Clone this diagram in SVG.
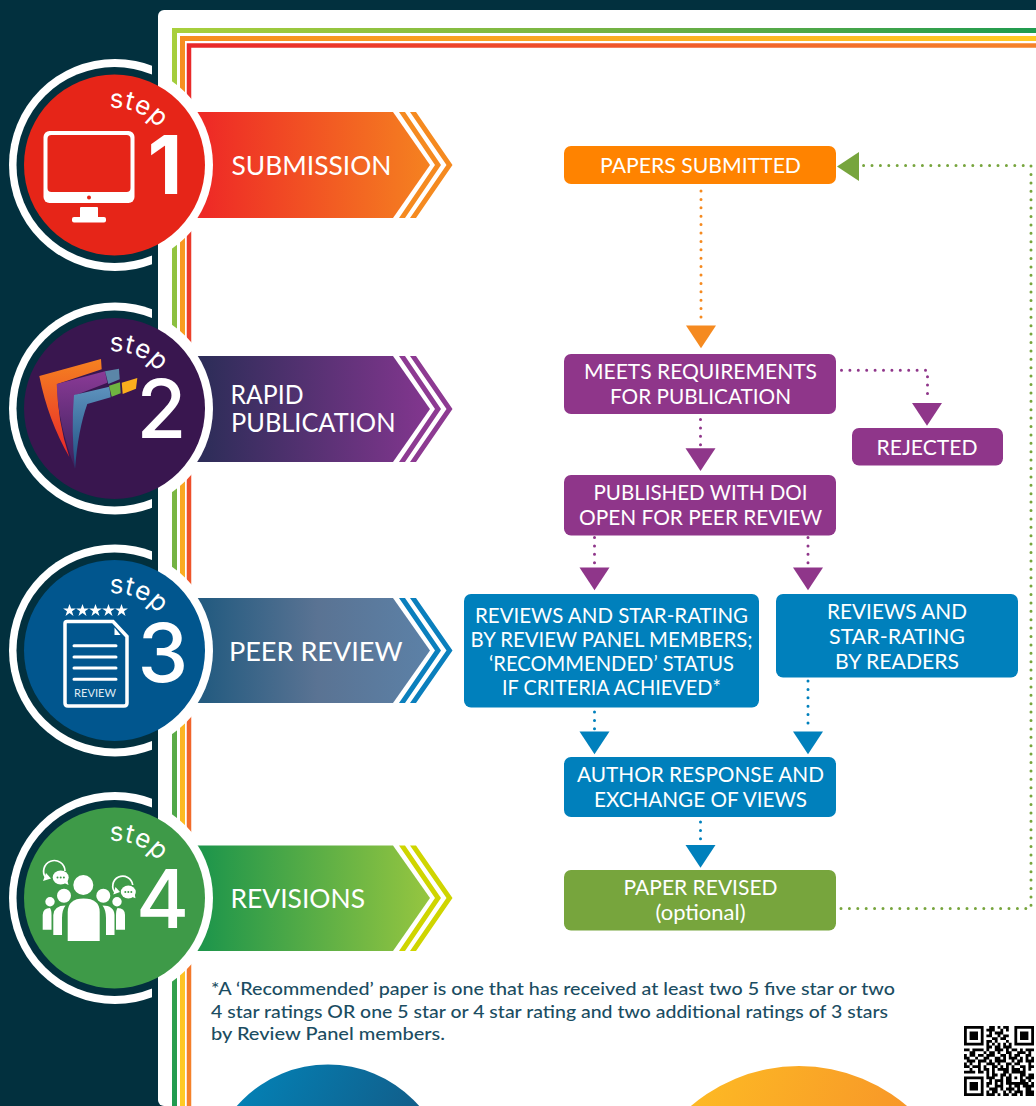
<svg xmlns="http://www.w3.org/2000/svg" width="1036" height="1106" viewBox="0 0 1036 1106">
<style>
text{font-family:"Lato","Noto Sans","Liberation Sans",sans-serif}
.nt{font-size:20.5px;fill:#fff;text-anchor:middle;font-weight:400}
.bt{font-size:26.5px;fill:#fff;font-weight:400}
.num{font-family:"Inter","Liberation Sans",sans-serif;fill:#fff;text-anchor:middle}
.st{font-family:"Inter","Liberation Sans",sans-serif;font-size:26px;fill:#fff;letter-spacing:.6px;font-weight:400}
.fn{font-size:18px;fill:#1b4d62;font-weight:500}
.d{fill:none;stroke-width:3;stroke-linecap:round;stroke-dasharray:0 8.4}
.w{fill:#fff}
.dk{fill:#02303e}
</style>
<defs>
<linearGradient id="gs1" gradientUnits="userSpaceOnUse" x1="172" y1="28" x2="698" y2="449"><stop offset="0" stop-color="#a9d03c"/><stop offset=".55" stop-color="#6fb044"/><stop offset="1" stop-color="#1f9b4f"/></linearGradient>
<linearGradient id="gs2" gradientUnits="userSpaceOnUse" x1="172" y1="28" x2="698" y2="449"><stop offset="0" stop-color="#f68b1f"/><stop offset="1" stop-color="#ffca24"/></linearGradient>
<linearGradient id="gs3" gradientUnits="userSpaceOnUse" x1="172" y1="28" x2="698" y2="449"><stop offset="0" stop-color="#e8242a"/><stop offset="1" stop-color="#f5822a"/></linearGradient>
<linearGradient id="a1" gradientUnits="userSpaceOnUse" x1="205" y1="0" x2="430" y2="0"><stop offset="0" stop-color="#ee2a26"/><stop offset="1" stop-color="#f58220"/></linearGradient>
<linearGradient id="a2" gradientUnits="userSpaceOnUse" x1="205" y1="0" x2="430" y2="0"><stop offset="0" stop-color="#2e2d59"/><stop offset="1" stop-color="#83368f"/></linearGradient>
<linearGradient id="a3" gradientUnits="userSpaceOnUse" x1="205" y1="0" x2="430" y2="0"><stop offset="0" stop-color="#245b80"/><stop offset=".5" stop-color="#5a7393"/><stop offset="1" stop-color="#5c81a7"/></linearGradient>
<linearGradient id="a4" gradientUnits="userSpaceOnUse" x1="205" y1="0" x2="430" y2="0"><stop offset="0" stop-color="#1f964b"/><stop offset="1" stop-color="#96c640"/></linearGradient>
<linearGradient id="lo" x1="0" y1="0" x2="0" y2="1"><stop offset="0" stop-color="#f58220"/><stop offset="1" stop-color="#e8262a"/></linearGradient>
<linearGradient id="lp" x1="0" y1="0" x2="0" y2="1"><stop offset="0" stop-color="#8a3a96"/><stop offset="1" stop-color="#39205a"/></linearGradient>
<linearGradient id="lb" x1="0" y1="0" x2="0" y2="1"><stop offset="0" stop-color="#5d92bd"/><stop offset="1" stop-color="#1d4d80"/></linearGradient>
<linearGradient id="cb" x1="0" y1="0" x2="1" y2=".5"><stop offset="0" stop-color="#0089bf"/><stop offset="1" stop-color="#17517a"/></linearGradient>
<linearGradient id="co" x1="0" y1="0" x2="1" y2=".35"><stop offset="0" stop-color="#ffc423"/><stop offset="1" stop-color="#f58a2a"/></linearGradient>
<clipPath id="cL1"><rect x="0" y="0" width="152" height="1106"/></clipPath>
<clipPath id="cL2"><rect x="0" y="0" width="158" height="1106"/></clipPath>
<clipPath id="cR"><rect x="158" y="0" width="878" height="1106"/></clipPath>
<polygon id="tri" points="-15,0 15,0 0,22.7"/>
<polygon id="star" points="0,-6.5 1.6,-2 6.4,-2 2.5,.8 4,5.4 0,2.6 -4,5.4 -2.5,.8 -6.4,-2 -1.6,-2"/>
<path id="arc1" d="M109.500 108.300A57 57 0 0 1 171.500 158"/>
<path id="arc2" d="M109.500 351.800A57 57 0 0 1 171.500 401.500"/>
<path id="arc3" d="M109.500 593.800A57 57 0 0 1 171.500 643.500"/>
<path id="arc4" d="M109.500 841.300A57 57 0 0 1 171.500 891"/>
</defs>

<rect width="1036" height="1106" class="dk"/>
<rect x="158" y="10" width="900" height="1096" rx="6" class="w"/>
<g id="frame" fill="none" stroke-width="5">
<path d="M174.500 1106V30.500H1036" stroke="url(#gs1)"/>
<path d="M182.500 1106V38.500H1036" stroke="url(#gs2)"/>
<path d="M189 1106V45.500H1036" stroke="url(#gs3)" style="stroke-width:4.5"/>
</g>

<g id="step1">
<circle cx="114.500" cy="165" r="101.500" class="w" clip-path="url(#cR)"/>
<polygon points="190,112 393,112 430,165 393,218 190,218" fill="url(#a1)"/>
<polygon points="399,112 405,112 441,165 405,218 399,218 435,165" fill="#f58a20"/>
<polygon points="410,112 416,112 452.500,165 416,218 410,218 446.500,165" fill="#f58a20"/>
<circle cx="114.500" cy="165" r="98.500" class="w" clip-path="url(#cR)"/>
<circle cx="115" cy="165" r="106" class="w" clip-path="url(#cL1)"/>
<circle cx="114.500" cy="165" r="98" class="dk" clip-path="url(#cL2)"/>
<circle cx="114.500" cy="165" r="90.500" fill="#e62518"/>
<text class="st"><textPath href="#arc1">step</textPath></text>
<text class="num" x="165" y="194" font-size="81" font-weight="700">1</text>
<rect x="43.500" y="131" width="91" height="72" rx="6" class="w"/>
<rect x="47.500" y="135" width="83" height="57" rx="4" fill="#e62518"/>
<circle cx="89" cy="197.500" r="2" fill="#e62518"/>
<rect x="80" y="207" width="18" height="11" rx="1" class="w"/>
<rect x="72" y="217" width="34" height="5.500" rx="2" class="w"/>
<text class="bt" x="231.500" y="174.500" textLength="160" lengthAdjust="spacingAndGlyphs">SUBMISSION</text>
</g>

<g id="step2">
<circle cx="114.500" cy="408.500" r="101.500" class="w" clip-path="url(#cR)"/>
<polygon points="190,356 393,356 430,409 393,462 190,462" fill="url(#a2)"/>
<polygon points="399,356 405,356 441,409 405,462 399,462 435,409" fill="#8d3a92"/>
<polygon points="410,356 416,356 452.500,409 416,462 410,462 446.500,409" fill="#8d3a92"/>
<circle cx="114.500" cy="408.500" r="98.500" class="w" clip-path="url(#cR)"/>
<circle cx="115" cy="408.500" r="106" class="w" clip-path="url(#cL1)"/>
<circle cx="114.500" cy="408.500" r="98" class="dk" clip-path="url(#cL2)"/>
<circle cx="114.500" cy="408.500" r="90.500" fill="#39164f"/>
<text class="st"><textPath href="#arc2">step</textPath></text>
<text class="num" x="161.500" y="438" font-size="81" font-weight="500">2</text>
<path d="M39.300 376 101 359 101.700 369.300 57.300 384Q57 420 69.300 457Q48 420 39.300 376Z" fill="url(#lo)"/>
<path d="M56.700 384 105 371.300 107.300 382.700 76 395Q72 430 75 468Q58 425 56.700 384Z" fill="url(#lp)"/>
<path d="M74 395 109.300 386.700 110.700 397.300 87.300 404Q78 430 75 469Q71 430 74 395Z" fill="url(#lb)"/>
<polygon points="105,371.300 119,368.700 119.700,379.300 108.300,384" fill="#5b86a8"/>
<polygon points="109,385.700 120,382.300 120.700,393.300 111.700,396.700" fill="#6fb540"/>
<polygon points="121.700,382.700 137.300,378 136,388.700 122.700,394" fill="#fbae1d"/>
<text class="bt" x="230.500" y="404" textLength="73" lengthAdjust="spacingAndGlyphs">RAPID</text>
<text class="bt" x="231" y="431.500" textLength="164.500" lengthAdjust="spacingAndGlyphs">PUBLICATION</text>
</g>

<g id="step3">
<circle cx="114.500" cy="650.500" r="101.500" class="w" clip-path="url(#cR)"/>
<polygon points="190,598 393,598 430,650.500 393,703 190,703" fill="url(#a3)"/>
<polygon points="399,598 405,598 441,650.500 405,703 399,703 435,650.500" fill="#0a7fbd"/>
<polygon points="410,598 416,598 452.500,650.500 416,703 410,703 446.500,650.500" fill="#0a7fbd"/>
<circle cx="114.500" cy="650.500" r="98.500" class="w" clip-path="url(#cR)"/>
<circle cx="115" cy="650.500" r="106" class="w" clip-path="url(#cL1)"/>
<circle cx="114.500" cy="650.500" r="98" class="dk" clip-path="url(#cL2)"/>
<circle cx="114.500" cy="650.500" r="90.500" fill="#01568e"/>
<text class="st"><textPath href="#arc3">step</textPath></text>
<text class="num" x="163" y="682" font-size="81" font-weight="500">3</text>
<g class="w"><use href="#star" x="69.500" y="610.500"/><use href="#star" x="82.500" y="610.500"/><use href="#star" x="95.500" y="610.500"/><use href="#star" x="108.500" y="610.500"/><use href="#star" x="121.500" y="610.500"/></g>
<path d="M67 621.500H113L127 636.500V703Q127 706 124 706H68Q65 706 65 703V623.500Q65 621.500 67 621.500Z" fill="none" stroke="#fff" stroke-width="3.500"/>
<polygon points="114.500,627.500 120.500,635 114.500,635" class="w"/>
<path d="M74 645.700H116M74 657H116M74 668H116M74 679.300H116" stroke="#fff" stroke-width="3" stroke-linecap="round" fill="none"/>
<text x="74" y="696.700" font-size="10.500" fill="#dfeaf3" textLength="42" lengthAdjust="spacingAndGlyphs">REVIEW</text>
<text class="bt" x="229" y="660.500" textLength="173.500" lengthAdjust="spacingAndGlyphs">PEER REVIEW</text>
</g>

<g id="step4">
<circle cx="114.500" cy="898" r="101.500" class="w" clip-path="url(#cR)"/>
<polygon points="190,845.500 393,845.500 430,898 393,951 190,951" fill="url(#a4)"/>
<polygon points="399,845.500 405,845.500 441,898 405,951 399,951 435,898" fill="#cfd500"/>
<polygon points="410,845.500 416,845.500 452.500,898 416,951 410,951 446.500,898" fill="#cfd500"/>
<circle cx="114.500" cy="898" r="98.500" class="w" clip-path="url(#cR)"/>
<circle cx="115" cy="898" r="106" class="w" clip-path="url(#cL1)"/>
<circle cx="114.500" cy="898" r="98" class="dk" clip-path="url(#cL2)"/>
<circle cx="114.500" cy="898" r="90.500" fill="#3e9a48"/>
<text class="st"><textPath href="#arc4">step</textPath></text>
<text class="num" x="162.500" y="928" font-size="81" font-weight="500">4</text>
<g class="w">
<circle cx="83.300" cy="885" r="10"/>
<path d="M67.700 941V912Q68 898.500 83.500 898.500Q99.700 898.500 99.700 912V941Z"/>
<circle cx="64" cy="895.700" r="7"/><circle cx="103.300" cy="895.700" r="7"/>
<path d="M53.300 935V915Q54 905.500 65.500 905.500Q62 910 62 918V935Z"/>
<path d="M114.500 935V915Q114 905.500 102.500 905.500Q106 910 106 918V935Z"/>
<circle cx="50" cy="901.700" r="4.700"/><circle cx="117" cy="901.700" r="4.700"/>
<path d="M42.700 929.700V915Q43 908 50 908Q51.500 910 51.500 915V929.700Z"/>
<path d="M125 929.700V915Q125 908 117.500 908Q116 910 116 915V929.700Z"/>
<path d="M46 878A10.700 10.700 0 1 1 65 871" fill="none" stroke="#fff" stroke-width="1.700"/>
<polygon points="43,881 51,878.500 46,873"/>
<path d="M115.500 893A10 10 0 1 1 132.700 885" fill="none" stroke="#fff" stroke-width="1.700"/>
<polygon points="113.300,894.500 120,892 115.500,887"/>
<ellipse cx="60.700" cy="877.500" rx="8" ry="7"/><polygon points="62,882 68.500,885 66.500,877"/>
<ellipse cx="128.300" cy="892" rx="7.500" ry="6.500"/><polygon points="130,896 135.500,898.300 134,890"/>
</g>
<g fill="#3e9a48"><circle cx="57.500" cy="877.500" r="1"/><circle cx="60.700" cy="877.500" r="1"/><circle cx="63.900" cy="877.500" r="1"/><circle cx="125.300" cy="892" r="1"/><circle cx="128.300" cy="892" r="1"/><circle cx="131.300" cy="892" r="1"/></g>
<text class="bt" x="230.500" y="907.500" textLength="134.500" lengthAdjust="spacingAndGlyphs">REVISIONS</text>
</g>

<g id="connectors">
<path class="d" stroke="#f58a20" d="M701 191V322"/>
<use href="#tri" x="701" y="325.500" fill="#f58a20"/>
<path class="d" stroke="#8f368a" d="M841.500 370.300H927.500V398"/>
<use href="#tri" x="927" y="403" fill="#8f368a"/>
<path class="d" stroke="#8f368a" d="M700.500 419.500V446"/>
<use href="#tri" x="700.500" y="448.300" fill="#8f368a"/>
<path class="d" stroke="#8f368a" d="M594.500 537.500V563"/>
<use href="#tri" x="594.500" y="567.500" fill="#8f368a"/>
<path class="d" stroke="#8f368a" d="M808 537.500V563"/>
<use href="#tri" x="808" y="567.500" fill="#8f368a"/>
<path class="d" stroke="#0080bc" d="M594.500 712V730"/>
<use href="#tri" x="594.500" y="731.500" fill="#0080bc"/>
<path class="d" stroke="#0080bc" d="M808 681V730"/>
<use href="#tri" x="808" y="731.500" fill="#0080bc"/>
<path class="d" stroke="#0080bc" d="M700.500 822V842"/>
<use href="#tri" x="700.500" y="845" fill="#0080bc"/>
<path class="d" stroke="#77a53d" d="M841 908.500H1031V165.500H860"/>
<polygon points="837,166.500 859,152 859,181" fill="#77a53d"/>
</g>

<g id="n-submitted"><rect x="564" y="146" width="272" height="38" rx="7" fill="#ff8300"/><text class="nt" x="700.500" y="173" textLength="201" lengthAdjust="spacingAndGlyphs">PAPERS SUBMITTED</text></g>
<g id="n-meets"><rect x="564" y="354" width="272" height="60" rx="7" fill="#8f368a"/><text class="nt" x="700.500" y="379" textLength="233" lengthAdjust="spacingAndGlyphs">MEETS REQUIREMENTS</text><text class="nt" x="700.500" y="404" textLength="181" lengthAdjust="spacingAndGlyphs">FOR PUBLICATION</text></g>
<g id="n-rejected"><rect x="852" y="428" width="151" height="37.500" rx="7" fill="#8f368a"/><text class="nt" x="927" y="455" textLength="101" lengthAdjust="spacingAndGlyphs">REJECTED</text></g>
<g id="n-published"><rect x="564" y="475" width="272" height="60.500" rx="7" fill="#8f368a"/><text class="nt" x="700.500" y="500" textLength="214" lengthAdjust="spacingAndGlyphs">PUBLISHED WITH DOI</text><text class="nt" x="700.500" y="525" textLength="243" lengthAdjust="spacingAndGlyphs">OPEN FOR PEER REVIEW</text></g>
<g id="n-panel"><rect x="464" y="594" width="295" height="113.500" rx="7" fill="#0080bc"/>
<text class="nt" x="611.500" y="622.500" textLength="273" lengthAdjust="spacingAndGlyphs">REVIEWS AND STAR-RATING</text>
<text class="nt" x="611.500" y="646.500" textLength="282" lengthAdjust="spacingAndGlyphs">BY REVIEW PANEL MEMBERS;</text>
<text class="nt" x="611.500" y="670.500" textLength="245" lengthAdjust="spacingAndGlyphs">‘RECOMMENDED’ STATUS</text>
<text class="nt" x="611.500" y="694.500" textLength="219" lengthAdjust="spacingAndGlyphs">IF CRITERIA ACHIEVED*</text></g>
<g id="n-readers"><rect x="776" y="594" width="242" height="83.500" rx="7" fill="#0080bc"/>
<text class="nt" x="897" y="619" textLength="140" lengthAdjust="spacingAndGlyphs">REVIEWS AND</text>
<text class="nt" x="897" y="644" textLength="136" lengthAdjust="spacingAndGlyphs">STAR-RATING</text>
<text class="nt" x="897" y="669" textLength="124" lengthAdjust="spacingAndGlyphs">BY READERS</text></g>
<g id="n-author"><rect x="564" y="757" width="272" height="60" rx="7" fill="#0080bc"/>
<text class="nt" x="700.500" y="782" textLength="247" lengthAdjust="spacingAndGlyphs">AUTHOR RESPONSE AND</text>
<text class="nt" x="700.500" y="807" textLength="213" lengthAdjust="spacingAndGlyphs">EXCHANGE OF VIEWS</text></g>
<g id="n-revised"><rect x="564" y="870" width="272" height="60.500" rx="7" fill="#77a53d"/>
<text class="nt" x="700.500" y="895" textLength="154" lengthAdjust="spacingAndGlyphs">PAPER REVISED</text>
<text class="nt" x="700.500" y="920" textLength="90" lengthAdjust="spacingAndGlyphs">(optional)</text></g>

<g id="footnote">
<text class="fn" x="211" y="995" textLength="684" lengthAdjust="spacingAndGlyphs">*A ‘Recommended’ paper is one that has received at least two 5 five star or two</text>
<text class="fn" x="211" y="1018" textLength="677" lengthAdjust="spacingAndGlyphs">4 star ratings OR one 5 star or 4 star rating and two additional ratings of 3 stars</text>
<text class="fn" x="211" y="1040" textLength="234" lengthAdjust="spacingAndGlyphs">by Review Panel members.</text>
</g>

<circle id="circle-blue" cx="328" cy="1185.500" r="121" fill="url(#cb)"/>
<circle id="circle-orange" cx="799" cy="1232" r="166" fill="url(#co)"/>

<g id="qr" transform="translate(964 1026) scale(2.8)"><path fill="none" stroke="#000" d="M0 .5h7M9 .5h2M12 .5h1M14 .5h2M18 .5h7M0 1.500h1M6 1.500h1M8 1.500h3M13 1.500h1M15 1.500h1M18 1.500h1M24 1.500h1M0 2.500h1M2 2.500h3M6 2.500h1M9 2.500h1M11 2.500h3M18 2.500h1M20 2.500h3M24 2.500h1M0 3.500h1M2 3.500h3M6 3.500h1M8 3.500h2M12 3.500h1M14 3.500h2M18 3.500h1M20 3.500h3M24 3.500h1M0 4.500h1M2 4.500h3M6 4.500h1M10 4.500h2M13 4.500h2M18 4.500h1M20 4.500h3M24 4.500h1M0 5.500h1M6 5.500h1M8 5.500h2M11 5.500h1M15 5.500h1M18 5.500h1M24 5.500h1M0 6.500h7M8 6.500h1M10 6.500h1M12 6.500h1M14 6.500h1M16 6.500h1M18 6.500h7M8 7.500h2M11 7.500h2M14 7.500h3M0 8.500h2M3 8.500h4M8 8.500h1M11 8.500h3M15 8.500h1M17 8.500h2M20 8.500h1M22 8.500h3M2 9.500h2M7 9.500h1M9 9.500h2M12 9.500h1M15 9.500h2M19 9.500h3M23 9.500h1M0 10.500h1M2 10.500h2M5 10.500h2M8 10.500h3M13 10.500h2M16 10.500h1M18 10.500h2M22 10.500h2M0 11.500h2M4 11.500h1M7 11.500h2M11 11.500h2M14 11.500h1M16 11.500h3M20 11.500h1M22 11.500h1M24 11.500h1M1 12.500h3M5 12.500h3M9 12.500h1M11 12.500h4M17 12.500h1M19 12.500h2M22 12.500h3M0 13.500h1M2 13.500h1M5 13.500h1M8 13.500h3M12 13.500h1M15 13.500h2M18 13.500h2M23 13.500h1M0 14.500h2M3 14.500h3M7 14.500h1M10 14.500h2M13 14.500h1M15 14.500h1M17 14.500h1M20 14.500h2M23 14.500h2M2 15.500h1M5 15.500h1M7 15.500h2M10 15.500h1M12 15.500h4M17 15.500h3M21 15.500h1M23 15.500h1M0 16.500h4M5 16.500h2M8 16.500h1M10 16.500h1M14 16.500h2M17 16.500h5M8 17.500h1M10 17.500h2M13 17.500h2M16 17.500h1M20 17.500h2M23 17.500h2M0 18.500h7M8 18.500h3M13 18.500h1M15 18.500h2M18 18.500h1M20 18.500h1M22 18.500h3M0 19.500h1M6 19.500h1M9 19.500h1M11 19.500h3M15 19.500h2M20 19.500h2M23 19.500h1M0 20.500h1M2 20.500h3M6 20.500h1M8 20.500h2M11 20.500h1M13 20.500h1M15 20.500h8M24 20.500h1M0 21.500h1M2 21.500h3M6 21.500h1M8 21.500h1M11 21.500h3M16 21.500h1M18 21.500h2M21 21.500h4M0 22.500h1M2 22.500h3M6 22.500h1M9 22.500h3M13 22.500h1M15 22.500h3M19 22.500h1M22 22.500h2M0 23.500h1M6 23.500h1M8 23.500h1M10 23.500h2M14 23.500h1M16 23.500h1M18 23.500h3M22 23.500h3M0 24.500h7M8 24.500h3M12 24.500h1M14 24.500h2M17 24.500h2M20 24.500h1M22 24.500h3"/></g>
</svg>
